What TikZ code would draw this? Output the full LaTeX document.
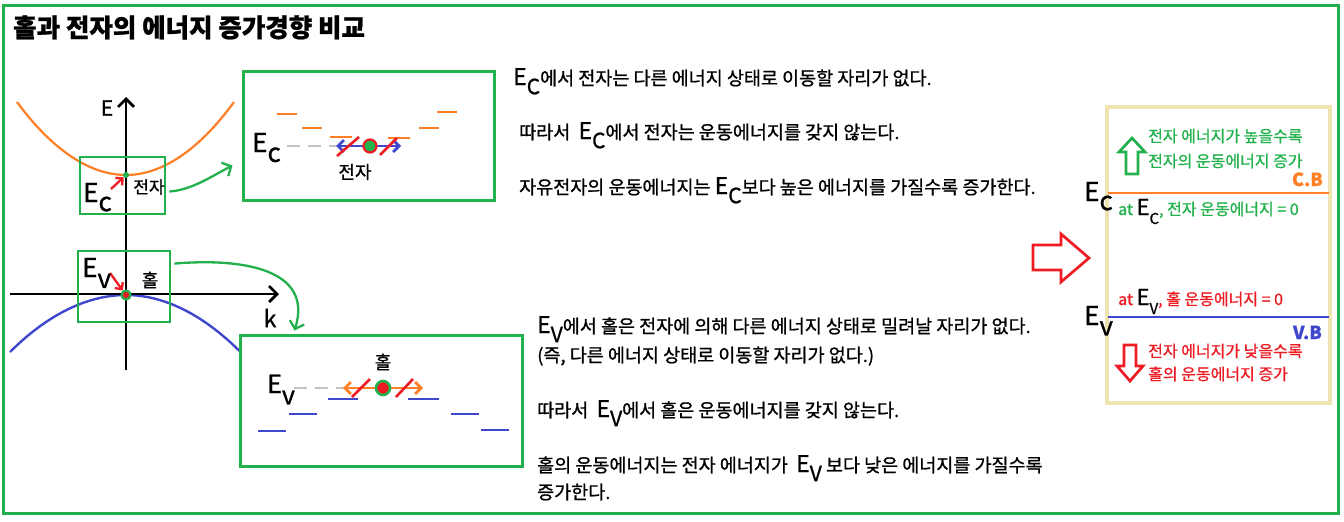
\documentclass[tikz,border=0pt]{standalone}
\usepackage{fontspec}
\setmainfont{Noto Sans CJK KR}[FakeBold=0.9]
\usetikzlibrary{arrows.meta,positioning,calc}
\definecolor{PaintGreen}{RGB}{34,177,76}
\definecolor{PaintOrange}{RGB}{255,127,39}
\definecolor{PaintBlue}{RGB}{63,72,204}
\definecolor{PaintRed}{RGB}{237,28,36}
\definecolor{PaintGray}{RGB}{195,195,195}
\definecolor{Beige}{RGB}{239,228,176}
\newcommand{\fs}[1]{\fontsize{#1}{#1}\selectfont}
\newcommand{\Esub}[2][.35em]{E\raisebox{-#1}{#2}}
\newcommand{\Etxt}[1]{{\fs{23}E\raisebox{-.4em}{\fs{21}#1}}}
\tikzset{
  frame/.style   = {draw=PaintGreen, line width=3pt},
  zoomsel/.style = {draw=PaintGreen, line width=2.8pt, inner sep=0pt},
  zoombox/.style = {draw=PaintGreen, line width=3pt, fill=white, inner sep=0pt},
  txt/.style     = {anchor=base west, inner sep=0pt, font=\fs{18.5}},
  lbl/.style     = {anchor=base west, inner sep=0pt, font=\fs{26}},
  lvl/.style     = {line width=2.7pt},
  axis/.style    = {line width=2.7pt, -{Straight Barb[length=8pt,width=16pt]}},
  garr/.style    = {PaintGreen, line width=2.3pt, -{Straight Barb[length=7pt,width=15pt]}},
  redarr/.style  = {PaintRed, line width=2.3pt, -{Straight Barb[length=5pt,width=10pt]}},
  slash/.style   = {PaintRed, line width=2.6pt}
}
\begin{document}
\begin{tikzpicture}[x=1pt, y=-1pt,
    dotc/.style={circle, inner sep=0pt, line width=2.2pt},
    sarr/.style={line width=2.7pt,
      {Straight Barb[length=6pt,width=12pt]}-{Straight Barb[length=6pt,width=12pt]}},
    note/.style={anchor=base west, inner sep=0pt, font=\fs{16}}]
\useasboundingbox (0,0) rectangle (1344,522);
\draw[frame] (3,5) rectangle (1338,513);
\node[anchor=base west, inner sep=0pt, font=\fs{25.5}\bfseries] (title) at (13,37)
  {홀과 전자의 에너지 증가경향 비교};

% band diagram
\coordinate (etop) at (126,97);
\coordinate (ebot) at (126,370);
\coordinate (kleft) at (10,294);
\coordinate (kright) at (279,294);
\draw[PaintOrange, line width=2.2pt] (17,102) parabola bend (126,175) (234,102);
\draw[PaintBlue, line width=2.4pt] (10,352) parabola bend (126,295) (250,362);
\draw[axis] (ebot) -- (etop);
\draw[axis] (kleft) -- (kright);
\node[font=\fs{21}] (elab) at (107,108) {E};
\node[font=\fs{23}] (klab) at (270,318) {k};

\node[zoomsel, minimum width=85, minimum height=57] (cbox) at (122.5,185.5) {};
\node[zoomsel, minimum width=92, minimum height=71] (vbox) at (124,286.5) {};
\node[circle, fill=PaintGreen, inner sep=0pt, minimum size=6] (edot0) at (126,175) {};
\node[dotc, fill=PaintRed, draw=PaintGreen, minimum size=9] (hdot0) at (126,295) {};
\coordinate (ea0) at (111,189);
\coordinate (ha0) at (110,273);
\draw[redarr] (ea0) -- (edot0);
\draw[redarr] (ha0) -- (hdot0);
\node[lbl] (eclab) at (83,202) {\Esub{c}};
\node[lbl] (evlab) at (82,277) {\Esub[.42em]{v}};
\node[font=\fs{17}] (elec0) at (149,187) {전자};
\node[font=\fs{18}] (hole0) at (150,280) {홀};

% zoomed views
\node[zoombox, minimum width=251, minimum height=129] (cinset) at (368.5,135.5) {};
\node[zoombox, minimum width=282, minimum height=131] (vinset) at (381,400.5) {};
\draw[garr] ($(cbox.east)+(3,6)$) .. controls (192,190) and (212,176) .. ($(cinset.west)+(-9,30)$);
\draw[garr] ($(vbox.north east)+(3,14)$) .. controls (240,258) and (314,268) .. ($(vinset.north west)+(56,-3)$);

% conduction band levels
\node[lbl] (ecin) at (252,152) {\Esub[.38em]{c}};
\coordinate (cg0) at (287,146);
\coordinate (cg1) at (341,146);
\draw[lvl, PaintGray, dash pattern=on 13pt off 8pt] (cg0) -- (cg1);
\foreach \xa/\xb/\yy in {277/297/114, 302/322/128, 330/352/137, 388/410/138, 419/439/128, 437/457/112}
  \draw[lvl, PaintOrange] (\xa,\yy) -- (\xb,\yy);
\coordinate (cl) at (336,146);
\coordinate (cr) at (401,146);
\draw[sarr, PaintBlue] (cl) -- (cr);
\node[dotc, fill=PaintGreen, draw=PaintRed, minimum size=13] (edot) at (370,146) {};
\draw[slash] (337,156) -- (359,137);
\draw[slash] (380,155) -- (397,138);
\node[font=\fs{18}] (elec) at (355,172) {전자};

% valence band levels
\node[lbl, font=\fs{25}] (evin) at (267,393) {\Esub[.45em]{v}};
\coordinate (vg0) at (294,388);
\coordinate (vg1) at (345,388);
\draw[lvl, PaintGray, dash pattern=on 13pt off 8pt] (vg0) -- (vg1);
\foreach \xa/\xb/\yy in {328/358/399, 408/439/399, 289/317/414, 451/479/414, 258/286/431, 481/509/430}
  \draw[lvl, PaintBlue] (\xa,\yy) -- (\xb,\yy);
\coordinate (vl) at (343,388);
\coordinate (vr) at (423,388);
\draw[sarr, PaintOrange] (vl) -- (vr);
\node[dotc, fill=PaintRed, draw=PaintGreen, line width=2.6pt, minimum size=14] (hdot) at (383,388) {};
\draw[slash] (352,397) -- (370,379);
\draw[slash] (396,397) -- (413,379);
\node[font=\fs{18}] (hole) at (383,362) {홀};

% explanations
\node[txt] (c1) at (513,85) {\Etxt{C}에서 전자는 다른 에너지 상태로 이동할 자리가 없다.};
\node[txt] (c2) at (519,139) {따라서\ \ \Etxt{C}에서 전자는 운동에너지를 갖지 않는다.};
\node[txt] (c3) at (519,194) {자유전자의 운동에너지는 \Etxt{C}보다 높은 에너지를 가질수록 증가한다.};
\node[txt] (v1) at (537,333) {\Etxt{V}에서 홀은 전자에 의해 다른 에너지 상태로 밀려날 자리가 없다.};
\node[txt] (v2) at (537,362) {(즉, 다른 에너지 상태로 이동할 자리가 없다.)};
\node[txt] (v3) at (537,417) {따라서\ \ \Etxt{V}에서 홀은 운동에너지를 갖지 않는다.};
\node[txt] (v4) at (537,472) {홀의 운동에너지는 전자 에너지가\ \ \Etxt{V} 보다 낮은 에너지를 가질수록};
\node[txt] (v5) at (537,499) {증가한다.};

% summary panel
\draw[PaintRed, line width=2.7pt] (1033,245) -- (1061,245) -- (1061,234) -- (1089,258)
  -- (1061,282) -- (1061,270) -- (1033,270) -- cycle;
\node[draw=Beige, line width=3.2pt, minimum width=223, minimum height=296, inner sep=0pt] (panel) at (1218.5,255) {};
\coordinate (cbl) at (1108,193);
\coordinate (cbr) at (1329,193);
\coordinate (vbl) at (1108,317);
\coordinate (vbr) at (1329,317);
\draw[PaintOrange, line width=2.7pt] (cbl) -- (cbr);
\draw[PaintBlue, line width=2.7pt] (vbl) -- (vbr);
\node[lbl] (ecr) at (1084,201) {\Esub{c}};
\node[lbl] (evr) at (1084,325) {\Esub[.4em]{v}};
\draw[PaintGreen, line width=2.7pt] (1126,174) -- (1126,152) -- (1119,152) -- (1132,138)
  -- (1145,152) -- (1138,152) -- (1138,174) -- cycle;
\draw[PaintRed, line width=2.7pt] (1124,345) -- (1136,345) -- (1136,366) -- (1143,366)
  -- (1130,381) -- (1117,366) -- (1124,366) -- cycle;
\node[note, text=PaintGreen] (hi1) at (1148,142) {전자 에너지가 높을수록};
\node[note, text=PaintGreen] (hi2) at (1148,167) {전자의 운동에너지 증가};
\node[anchor=base east, inner sep=0pt, font=\fs{18}\bfseries, text=PaintOrange] (cb) at (1323,186) {C.B};
\node[note, text=PaintGreen] (atc) at (1118,215)
  {at {\color{black}\fs{22}E\raisebox{-9pt}{\fs{15}C}}, 전자 운동에너지 = 0};
\node[note, text=PaintRed] (atv) at (1118,305)
  {at {\color{black}\fs{22}E\raisebox{-9pt}{\fs{15}V}}, 홀 운동에너지 = 0};
\node[anchor=base east, inner sep=0pt, font=\fs{18}\bfseries, text=PaintBlue] (vb) at (1322,339) {V.B};
\node[note, text=PaintRed] (lo1) at (1148,357) {전자 에너지가 낮을수록};
\node[note, text=PaintRed] (lo2) at (1148,380) {홀의 운동에너지 증가};
\end{tikzpicture}
\end{document}
